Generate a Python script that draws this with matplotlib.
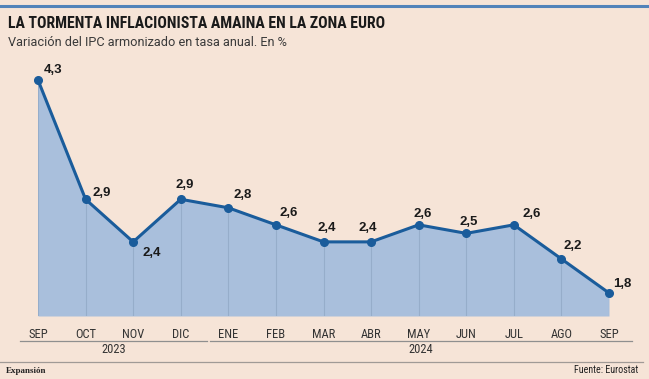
import matplotlib
matplotlib.use("Agg")
import matplotlib.pyplot as plt
from matplotlib import font_manager as fm
from matplotlib.lines import Line2D
import matplotlib.transforms as mtrans

months = ["SEP", "OCT", "NOV", "DIC", "ENE", "FEB", "MAR", "ABR", "MAY", "JUN", "JUL", "AGO", "SEP"]
values = [4.3, 2.9, 2.4, 2.9, 2.8, 2.6, 2.4, 2.4, 2.6, 2.5, 2.6, 2.2, 1.8]
value_labels = ["4,3", "2,9", "2,4", "2,9", "2,8", "2,6", "2,4", "2,4", "2,6", "2,5", "2,6", "2,2", "1,8"]
years = ["2023", "2024"]
year_spans = [(-0.38, 3.55), (3.62, 12.48)]
label_offsets = [(15, 10), (16, 6), (19, -11), (4, 14), (14, 13), (13, 12), (3, 14),
                 (-3, 14), (4, 11), (2, 11), (18, 11), (11, 13), (13, 9)]

names = {f.name for f in fm.fontManager.ttflist}
cond = "Roboto"
for cand in ["Roboto Condensed", "Liberation Sans Narrow", "Open Sans Condensed", "Roboto"]:
    if cand in names:
        cond = cand
        break
serif = "Liberation Serif" if "Liberation Serif" in names else "DejaVu Serif"
sans = "Liberation Sans" if "Liberation Sans" in names else "DejaVu Sans"

BG = "#f6e4d7"
FILL = "#a9bfdc"
LINE = "#1a5c9b"
W, H = 649, 379

fig = plt.figure(figsize=(W / 100, H / 100), dpi=100, facecolor=BG)
renderer = fig.canvas.get_renderer()


def fit_width(t, target_px, max_size):
    t.set_fontsize(max_size)
    w = t.get_window_extent(renderer).width
    if w > target_px:
        t.set_fontsize(max_size * target_px / w)


# top blue rule
fig.add_artist(Line2D([0, 1], [1 - 6 / H, 1 - 6 / H], color="#5283b9", lw=2.2,
                      transform=fig.transFigure))

title = fig.text(8 / W, 1 - 24 / H, "LA TORMENTA INFLACIONISTA AMAINA EN LA ZONA EURO",
                 family=cond, weight="bold", color="#1a1a1a", va="center", ha="left")
fit_width(title, 376, 14.5)
fig.text(8 / W, 1 - 43 / H, "Variación del IPC armonizado en tasa anual. En %",
         family="Roboto", fontsize=9.2, color="#3a3a3a", va="center", ha="left")

ymin = 1.53
ax = fig.add_axes([38 / W, 1 - 316 / H, (609 - 38) / W, (316 - 80) / H])
ax.set_facecolor("none")
x = list(range(len(values)))
ax.fill_between(x, values, ymin, color=FILL, lw=0, zorder=1)
ax.vlines(x, ymin, values, color="#96adca", lw=0.8, zorder=2)
ax.plot(x, values, color=LINE, lw=2.2, marker="o", ms=5.5, zorder=3, clip_on=False)
ax.set_xlim(0, 12)
ax.set_ylim(ymin, 4.3)
ax.axis("off")

for xi, v, lab, off in zip(x, values, value_labels, label_offsets):
    ax.annotate(lab, (xi, v), xytext=off, textcoords="offset pixels", ha="center",
                va="center", fontsize=9.5, weight="bold", family=sans,
                color="#1a1a1a", annotation_clip=False)

tr = mtrans.blended_transform_factory(ax.transData, fig.transFigure)
for xi, m in zip(x, months):
    ax.text(xi, 1 - 334 / H, m, transform=tr, ha="center", va="center", family=cond,
            fontsize=9, color="#333333")

for yr, (a, b) in zip(years, year_spans):
    fig.add_artist(Line2D([a, b], [1 - 341 / H, 1 - 341 / H], color="#8f8f8f", lw=0.9,
                          transform=tr))
    ax.text((a + b) / 2, 1 - 349.5 / H, yr, transform=tr, ha="center", va="center",
            family=cond, fontsize=9, color="#333333")

fig.add_artist(Line2D([0, 643 / W], [1 - 362 / H, 1 - 362 / H], color="#a09a96", lw=0.9,
                      transform=fig.transFigure))
fig.text(6 / W, 1 - 371 / H, "Expansión", family=serif, weight="bold", fontsize=6.5,
         color="#222222", va="center", ha="left")
fig.text(638 / W, 1 - 370 / H, "Fuente: Eurostat", family=cond, fontsize=7.2,
         color="#222222", va="center", ha="right")

fig.savefig("out.png", dpi=100, facecolor=BG)
